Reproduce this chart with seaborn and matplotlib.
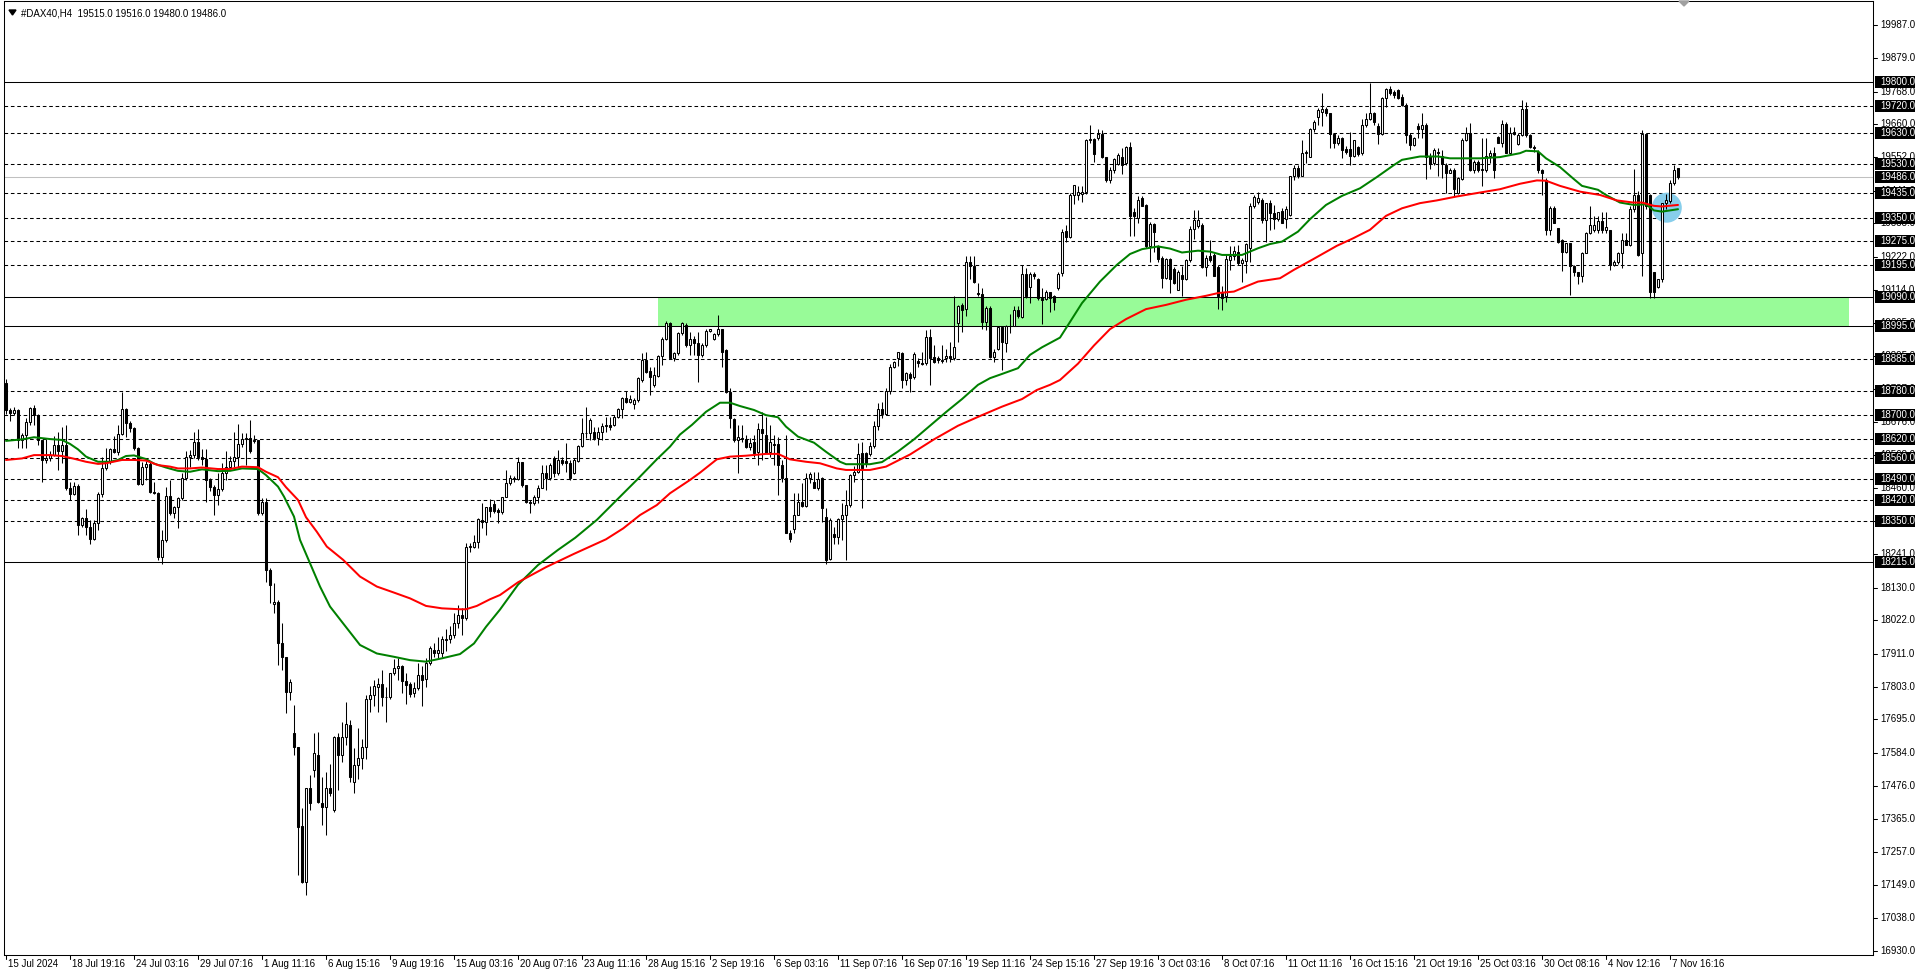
import numpy as np
import matplotlib
matplotlib.use('Agg')
import matplotlib.pyplot as plt
from matplotlib.patches import Rectangle, Ellipse, Polygon
from matplotlib.lines import Line2D
import seaborn as sns

sns.set_theme(style='white')
plt.rcParams['font.family'] = ['Liberation Sans', 'DejaVu Sans']
plt.rcParams['lines.scale_dashes'] = False

# ---------------- data ----------------
opens = [
    18805, 18717, 18706, 18717, 18618, 18635, 18676, 18722, 18700, 18618,
    18552, 18560, 18570, 18600, 18580, 18600, 18458, 18440, 18465, 18337,
    18360, 18332, 18290, 18343, 18438, 18524, 18550, 18587, 18579, 18638,
    18719, 18673, 18656, 18590, 18473, 18530, 18540, 18447, 18442, 18230,
    18288, 18433, 18376, 18397, 18425, 18491, 18563, 18568, 18610, 18563,
    18554, 18486, 18464, 18436, 18455, 18510, 18530, 18549, 18563, 18604,
    18620, 18625, 18615, 18618, 18376, 18414, 18189, 18076, 18084, 17949,
    17902, 17787, 17650, 17605, 17343, 17160, 17468, 17528, 17578, 17418,
    17407, 17468, 17396, 17638, 17578, 17638, 17677, 17490, 17545, 17567,
    17603, 17762, 17776, 17803, 17812, 17768, 17768, 17847, 17864, 17872,
    17823, 17812, 17784, 17798, 17842, 17830, 17880, 17924, 17913, 17913,
    17957, 17962, 17973, 18015, 18040, 18029, 18263, 18266, 18282, 18354,
    18348, 18398, 18406, 18387, 18380, 18431, 18477, 18491, 18490, 18546,
    18469, 18414, 18409, 18431, 18458, 18510, 18491, 18560, 18508, 18551,
    18547, 18542, 18508, 18550, 18598, 18642, 18640, 18645, 18623, 18645,
    18664, 18667, 18667, 18695, 18719, 18755, 18744, 18737, 18750, 18816,
    18882, 18846, 18800, 18830, 18895, 18950, 19003, 18887, 18904, 18970,
    18997, 18931, 18950, 18937, 18898, 18931, 18979, 18950, 18968, 18983,
    18915, 18777, 18686, 18618, 18626, 18620, 18596, 18612, 18579, 18653,
    18634, 18579, 18605, 18605, 18535, 18494, 18312, 18323, 18371, 18414,
    18400, 18491, 18480, 18461, 18491, 18362, 18224, 18307, 18296, 18356,
    18370, 18403, 18502, 18513, 18574, 18574, 18572, 18598, 18665, 18720,
    18705, 18780, 18860, 18888, 18905, 18816, 18835, 18827, 18880, 18871,
    18871, 18957, 18891, 18888, 18880, 18888, 18896, 18888, 19004, 19064,
    19050, 19207, 19193, 19104, 19100, 19009, 19053, 18893, 18918, 18990,
    18937, 18995, 18995, 19046, 19023, 19166, 19122, 19166, 19149, 19086,
    19083, 19105, 19092, 19119, 19169, 19309, 19287, 19427, 19427, 19430,
    19437, 19607, 19611, 19614, 19629, 19552, 19477, 19508, 19530, 19554,
    19532, 19587, 19372, 19350, 19416, 19394, 19257, 19331, 19257, 19218,
    19152, 19215, 19182, 19114, 19163, 19149, 19213, 19314, 19325, 19328,
    19188, 19226, 19229, 19188, 19103, 19092, 19213, 19226, 19240, 19202,
    19210, 19251, 19391, 19405, 19411, 19345, 19402, 19369, 19347, 19375,
    19347, 19361, 19490, 19515, 19490, 19567, 19554, 19644, 19686, 19702,
    19710, 19697, 19629, 19598, 19614, 19578, 19578, 19556, 19585, 19565,
    19658, 19677, 19699, 19655, 19629, 19746, 19776, 19768, 19772, 19750,
    19724, 19625, 19592, 19655, 19644, 19658, 19556, 19532, 19570, 19556,
    19526, 19501, 19510, 19435, 19479, 19609, 19631, 19508, 19537, 19510,
    19510, 19556, 19565, 19617, 19600, 19662, 19567, 19636, 19596, 19625,
    19710, 19625, 19587, 19570, 19510, 19477, 19312, 19383, 19317, 19279,
    19240, 19270, 19191, 19171, 19158, 19237, 19303, 19312, 19312, 19342,
    19310, 19310, 19196, 19207, 19235, 19279, 19262, 19380, 19427, 19235,
    19629, 19427, 19171, 19124, 19149, 19400, 19407, 19468, 19515,
]
highs = [
    18820, 18725, 18728, 18720, 18640, 18689, 18728, 18735, 18705, 18618,
    18620, 18580, 18630, 18645, 18662, 18667, 18480, 18480, 18473, 18365,
    18389, 18354, 18354, 18445, 18563, 18590, 18590, 18630, 18667, 18775,
    18725, 18680, 18660, 18594, 18545, 18550, 18545, 18480, 18447, 18321,
    18464, 18486, 18400, 18430, 18508, 18580, 18585, 18643, 18653, 18587,
    18587, 18492, 18470, 18508, 18541, 18580, 18565, 18645, 18670, 18640,
    18640, 18684, 18635, 18618, 18425, 18425, 18195, 18145, 18090, 18015,
    17902, 17830, 17743, 17605, 17402, 17468, 17512, 17649, 17655, 17505,
    17520, 17548, 17640, 17650, 17688, 17754, 17693, 17600, 17666, 17631,
    17776, 17806, 17825, 17831, 17860, 17803, 17847, 17894, 17897, 17875,
    17847, 17820, 17820, 17880, 17872, 17897, 17938, 17947, 17968, 17971,
    17993, 18004, 18045, 18073, 18062, 18277, 18277, 18304, 18359, 18409,
    18398, 18422, 18420, 18392, 18431, 18519, 18502, 18500, 18563, 18546,
    18469, 18420, 18436, 18469, 18535, 18535, 18541, 18565, 18585, 18563,
    18609, 18552, 18557, 18601, 18689, 18728, 18689, 18662, 18662, 18675,
    18693, 18695, 18700, 18722, 18760, 18780, 18766, 18755, 18827, 18906,
    18909, 18860, 18860, 18898, 18959, 19012, 19008, 18910, 18975, 19008,
    19003, 18975, 18960, 18975, 18937, 18983, 18986, 18972, 19030, 18986,
    18917, 18788, 18689, 18667, 18667, 18634, 18623, 18634, 18673, 18711,
    18694, 18667, 18634, 18629, 18552, 18634, 18320, 18442, 18442, 18477,
    18508, 18513, 18513, 18513, 18497, 18392, 18359, 18329, 18359, 18409,
    18453, 18505, 18532, 18607, 18612, 18579, 18610, 18680, 18740, 18745,
    18790, 18870, 18880, 18910, 18907, 18844, 18844, 18907, 18888, 18907,
    18982, 18984, 18932, 18896, 18932, 18918, 18940, 19094, 19064, 19070,
    19224, 19224, 19224, 19136, 19119, 19059, 19059, 18918, 18992, 18992,
    18998, 19034, 19059, 19059, 19196, 19185, 19171, 19171, 19152, 19119,
    19114, 19108, 19097, 19174, 19314, 19328, 19433, 19460, 19457, 19457,
    19611, 19658, 19614, 19644, 19640, 19554, 19519, 19548, 19565, 19581,
    19589, 19603, 19383, 19422, 19422, 19398, 19339, 19336, 19262, 19226,
    19218, 19218, 19188, 19180, 19191, 19215, 19323, 19376, 19376, 19334,
    19229, 19277, 19235, 19196, 19125, 19229, 19257, 19259, 19262, 19218,
    19268, 19400, 19427, 19438, 19416, 19402, 19409, 19394, 19372, 19383,
    19389, 19490, 19526, 19526, 19607, 19576, 19647, 19675, 19713, 19763,
    19719, 19699, 19633, 19625, 19620, 19589, 19636, 19609, 19589, 19677,
    19699, 19796, 19702, 19664, 19750, 19779, 19787, 19774, 19776, 19761,
    19730, 19631, 19620, 19664, 19697, 19664, 19565, 19581, 19581, 19576,
    19532, 19515, 19515, 19486, 19614, 19653, 19664, 19543, 19543, 19614,
    19614, 19574, 19587, 19622, 19675, 19669, 19653, 19653, 19631, 19739,
    19735, 19629, 19592, 19574, 19512, 19482, 19389, 19389, 19317, 19281,
    19270, 19270, 19196, 19174, 19240, 19306, 19389, 19356, 19358, 19372,
    19372, 19312, 19213, 19240, 19303, 19301, 19389, 19512, 19440, 19642,
    19631, 19430, 19174, 19150, 19400, 19430, 19475, 19526, 19516,
]
lows = [
    18705, 18680, 18700, 18590, 18590, 18590, 18667, 18667, 18601, 18480,
    18541, 18548, 18565, 18519, 18541, 18453, 18420, 18435, 18304, 18330,
    18304, 18274, 18288, 18320, 18430, 18520, 18540, 18575, 18568, 18634,
    18629, 18645, 18585, 18469, 18469, 18486, 18442, 18440, 18222, 18208,
    18282, 18370, 18360, 18326, 18420, 18486, 18530, 18560, 18552, 18535,
    18414, 18451, 18370, 18403, 18450, 18486, 18524, 18530, 18530, 18596,
    18535, 18574, 18607, 18370, 18370, 18150, 18079, 18045, 17875, 17858,
    17715, 17760, 17578, 17181, 17154, 17115, 17396, 17506, 17418, 17347,
    17314, 17441, 17390, 17462, 17556, 17610, 17490, 17451, 17497, 17530,
    17563, 17720, 17738, 17721, 17738, 17688, 17762, 17842, 17825, 17781,
    17745, 17768, 17768, 17792, 17740, 17803, 17875, 17902, 17897, 17902,
    17922, 17946, 17963, 17996, 17974, 18024, 18249, 18260, 18260, 18326,
    18304, 18365, 18376, 18343, 18373, 18431, 18469, 18480, 18486, 18464,
    18411, 18376, 18403, 18409, 18458, 18453, 18486, 18497, 18502, 18535,
    18513, 18486, 18506, 18546, 18595, 18623, 18618, 18618, 18601, 18618,
    18645, 18651, 18664, 18689, 18689, 18739, 18739, 18719, 18744, 18810,
    18838, 18766, 18794, 18825, 18866, 18948, 18884, 18880, 18898, 18964,
    18926, 18900, 18900, 18810, 18893, 18926, 18973, 18948, 18961, 18860,
    18774, 18656, 18612, 18508, 18612, 18590, 18585, 18563, 18535, 18552,
    18574, 18563, 18535, 18436, 18480, 18310, 18282, 18312, 18370, 18398,
    18398, 18477, 18458, 18453, 18348, 18210, 18222, 18276, 18276, 18288,
    18222, 18398, 18480, 18508, 18392, 18530, 18565, 18590, 18650, 18690,
    18700, 18770, 18855, 18863, 18789, 18800, 18778, 18819, 18860, 18866,
    18866, 18800, 18872, 18872, 18873, 18874, 18874, 18883, 18940, 18976,
    19026, 19149, 19136, 19092, 18984, 18982, 18888, 18877, 18916, 18850,
    18910, 18970, 18993, 19020, 19020, 19086, 19070, 19150, 19081, 19000,
    19081, 19042, 19048, 19114, 19158, 19273, 19284, 19398, 19411, 19405,
    19431, 19598, 19537, 19609, 19548, 19471, 19466, 19499, 19526, 19497,
    19526, 19292, 19290, 19336, 19389, 19251, 19204, 19240, 19204, 19119,
    19149, 19103, 19133, 19112, 19092, 19147, 19207, 19281, 19317, 19185,
    19158, 19207, 19160, 19050, 19048, 19075, 19180, 19213, 19196, 19141,
    19169, 19204, 19383, 19398, 19336, 19273, 19312, 19314, 19340, 19334,
    19317, 19356, 19477, 19482, 19488, 19532, 19552, 19636, 19658, 19655,
    19688, 19581, 19581, 19592, 19548, 19563, 19526, 19552, 19556, 19559,
    19653, 19675, 19658, 19596, 19625, 19717, 19757, 19746, 19743, 19721,
    19598, 19574, 19589, 19614, 19614, 19479, 19512, 19526, 19488, 19482,
    19433, 19501, 19422, 19431, 19477, 19606, 19506, 19501, 19504, 19455,
    19504, 19532, 19482, 19598, 19587, 19565, 19563, 19625, 19592, 19622,
    19620, 19581, 19570, 19501, 19427, 19295, 19295, 19333, 19270, 19177,
    19235, 19097, 19158, 19133, 19141, 19235, 19299, 19306, 19303, 19303,
    19301, 19180, 19191, 19199, 19185, 19262, 19259, 19370, 19224, 19158,
    19380, 19086, 19086, 19120, 19140, 19380, 19400, 19460, 19480,
]
closes = [
    18717, 18706, 18717, 18618, 18635, 18676, 18722, 18700, 18618, 18552,
    18560, 18570, 18600, 18580, 18600, 18458, 18440, 18465, 18337, 18360,
    18332, 18290, 18343, 18438, 18524, 18550, 18587, 18579, 18638, 18719,
    18673, 18656, 18590, 18473, 18530, 18540, 18447, 18442, 18230, 18288,
    18433, 18376, 18397, 18425, 18491, 18563, 18568, 18610, 18563, 18554,
    18486, 18464, 18436, 18455, 18510, 18530, 18549, 18563, 18604, 18620,
    18625, 18583, 18618, 18376, 18414, 18189, 18139, 18084, 17949, 17902,
    17787, 17820, 17605, 17341, 17160, 17468, 17418, 17583, 17424, 17407,
    17468, 17451, 17638, 17578, 17638, 17679, 17506, 17545, 17567, 17603,
    17762, 17776, 17806, 17812, 17768, 17768, 17847, 17864, 17872, 17823,
    17809, 17778, 17798, 17842, 17827, 17880, 17930, 17916, 17923, 17960,
    17962, 17973, 18015, 18040, 18031, 18266, 18268, 18282, 18356, 18348,
    18398, 18385, 18383, 18380, 18431, 18477, 18491, 18490, 18546, 18469,
    18414, 18409, 18431, 18458, 18510, 18491, 18535, 18508, 18551, 18543,
    18542, 18491, 18552, 18598, 18642, 18640, 18684, 18623, 18645, 18664,
    18667, 18662, 18695, 18719, 18755, 18744, 18752, 18750, 18821, 18882,
    18843, 18825, 18832, 18895, 18950, 19003, 18887, 18904, 18970, 19003,
    18931, 18950, 18937, 18898, 18931, 18979, 18983, 18968, 18983, 18909,
    18777, 18689, 18618, 18628, 18620, 18596, 18609, 18574, 18653, 18642,
    18576, 18612, 18601, 18535, 18494, 18312, 18290, 18371, 18414, 18400,
    18491, 18505, 18461, 18488, 18392, 18222, 18354, 18296, 18356, 18370,
    18403, 18502, 18513, 18572, 18524, 18540, 18598, 18665, 18720, 18705,
    18780, 18860, 18875, 18907, 18816, 18838, 18824, 18901, 18871, 18868,
    18957, 18888, 18874, 18883, 18880, 18896, 18890, 18924, 19061, 19048,
    19207, 19193, 19141, 19100, 19006, 19053, 18893, 18907, 18990, 18940,
    18995, 18993, 19048, 19026, 19166, 19092, 19166, 19158, 19086, 19081,
    19105, 19086, 19072, 19166, 19306, 19287, 19427, 19460, 19438, 19437,
    19607, 19611, 19563, 19629, 19552, 19477, 19510, 19545, 19559, 19526,
    19587, 19358, 19356, 19411, 19389, 19257, 19331, 19306, 19215, 19152,
    19215, 19149, 19136, 19174, 19149, 19213, 19314, 19345, 19345, 19188,
    19218, 19213, 19160, 19092, 19087, 19215, 19226, 19243, 19202, 19213,
    19266, 19391, 19420, 19416, 19343, 19402, 19367, 19347, 19372, 19336,
    19380, 19490, 19515, 19490, 19567, 19570, 19644, 19669, 19708, 19710,
    19699, 19629, 19598, 19614, 19576, 19570, 19556, 19607, 19563, 19658,
    19677, 19699, 19669, 19629, 19746, 19776, 19763, 19757, 19746, 19724,
    19625, 19592, 19614, 19644, 19658, 19554, 19530, 19576, 19565, 19530,
    19501, 19510, 19446, 19482, 19609, 19631, 19508, 19537, 19510, 19512,
    19556, 19565, 19510, 19600, 19662, 19567, 19633, 19629, 19625, 19710,
    19625, 19587, 19583, 19510, 19499, 19312, 19383, 19334, 19273, 19240,
    19270, 19191, 19174, 19158, 19237, 19303, 19328, 19328, 19342, 19310,
    19322, 19196, 19207, 19237, 19279, 19262, 19380, 19427, 19229, 19629,
    19390, 19108, 19108, 19149, 19400, 19410, 19468, 19508, 19486,
]

# moving averages, sampled along the lines (bar index, price)
ma_fast_bar = [
    0, 4, 7, 11, 14, 16, 18, 20, 23, 26, 28, 30, 32, 35, 37, 40, 43, 46, 49, 53,
    56, 59, 63, 65, 68, 69.5, 72, 73.5, 76, 78.5, 81, 84.3, 88.5, 92.7, 97, 101,
    105, 109, 113.5, 117, 120, 123.5, 128, 133, 138, 142.3, 147.7, 152.7, 157.7,
    162.7, 166, 168.5, 171.5, 175, 178.5, 181, 183.5, 187, 190, 193, 195, 198,
    202, 205, 208.5, 210, 216, 219, 223, 227, 231, 235, 239, 243, 246, 249, 253,
    256, 259, 263.5, 265, 269, 273.5, 277.7, 281, 284, 288, 291, 294, 298, 301,
    304, 309, 313, 316, 319, 323, 326, 330, 334, 338.5, 342.7, 347, 349, 353.5,
    358, 361, 366, 368.5, 373.5, 378.5, 380, 383, 385, 388.5, 392, 394, 398, 400,
    403.5, 407, 410, 412, 414, 418,
]
ma_fast = [
    18615, 18620, 18627, 18621, 18618, 18605, 18587, 18563, 18546, 18546,
    18552, 18565, 18567, 18555, 18540, 18527, 18516, 18513, 18521, 18515,
    18516, 18524, 18522, 18502, 18464, 18431, 18365, 18288, 18211, 18134,
    18068, 18012, 17941, 17913, 17902, 17891, 17886, 17897, 17911, 17946,
    18001, 18058, 18140, 18205, 18255, 18295, 18354, 18420, 18486, 18554,
    18596, 18636, 18668, 18711, 18741, 18741, 18730, 18717, 18700, 18693,
    18662, 18629, 18609, 18579, 18546, 18538, 18538, 18545, 18580, 18620,
    18665, 18710, 18753, 18800, 18822, 18836, 18855, 18899, 18924, 18956,
    18987, 19070, 19141, 19196, 19232, 19248, 19257, 19250, 19237, 19243,
    19240, 19229, 19229, 19251, 19265, 19273, 19306, 19347, 19394, 19424,
    19449, 19486, 19526, 19543, 19554, 19554, 19548, 19548, 19548, 19552,
    19565, 19573, 19571, 19548, 19519, 19479, 19457, 19444, 19427, 19402,
    19394, 19396, 19376, 19372, 19380,
]
ma_slow_bar = [
    0, 4, 7, 11, 14, 17, 20, 23, 25, 29, 32, 35, 38, 41, 43, 46, 49, 53, 56, 59,
    63, 65, 68, 70, 73, 75, 77.7, 80.2, 84.3, 88.5, 92.7, 97, 101, 105, 109,
    113.5, 115, 117.7, 121, 123.5, 128, 135, 142, 150, 154.3, 158.5, 162.7, 166,
    171, 173.5, 177.7, 181, 185, 190, 193, 196, 200, 203.5, 207.7, 210, 216, 220,
    226, 232, 238, 244, 249, 254, 257.7, 261, 263.5, 268, 272, 276, 280, 285, 290,
    295, 300, 303, 307, 310, 313, 318.5, 322, 326.8, 332.7, 336.8, 341, 345, 349,
    353.5, 357.7, 362.7, 368.5, 373.5, 378.5, 382.7, 385, 388.5, 393.5, 398.5,
    402.7, 406.8, 409, 412, 414, 418,
]
ma_slow = [
    18552, 18557, 18568, 18568, 18565, 18556, 18546, 18539, 18541, 18552,
    18552, 18550, 18535, 18530, 18524, 18524, 18527, 18522, 18522, 18530,
    18528, 18513, 18495, 18462, 18420, 18363, 18315, 18266, 18222, 18167,
    18134, 18114, 18095, 18070, 18062, 18059, 18059, 18070, 18092, 18106,
    18148, 18198, 18242, 18290, 18326, 18370, 18403, 18442, 18486, 18510,
    18554, 18563, 18566, 18572, 18572, 18554, 18546, 18541, 18524, 18519,
    18519, 18530, 18570, 18620, 18665, 18700, 18728, 18753, 18783, 18800,
    18816, 18870, 18930, 18984, 19017, 19050, 19064, 19081, 19094, 19103,
    19108, 19125, 19141, 19152, 19180, 19215, 19259, 19284, 19312, 19358,
    19383, 19400, 19409, 19422, 19435, 19446, 19464, 19475, 19474, 19457,
    19438, 19427, 19409, 19402, 19402, 19391, 19389, 19394,
]

solid_levels = [19800, 19090, 18995, 18215]
dashed_levels = [19720, 19630, 19530, 19435, 19350, 19275, 19195,
                 18885, 18780, 18700, 18620, 18560, 18490, 18420, 18350]
bid_price = 19486
zone_low, zone_high = 18995, 19090
zone_bars = (162.9, 460.75)
circle_bar, circle_price = 415.2, 19385

scale_ticks = [19987, 19879, 19768, 19660, 19552, 19441, 19333, 19222, 19114,
               19005, 18895, 18787, 18676, 18568, 18460, 18350, 18241, 18130,
               18022, 17911, 17803, 17695, 17584, 17476, 17365, 17257, 17149,
               17038, 16930]
date_labels = ['15 Jul 2024', '18 Jul 19:16', '24 Jul 03:16', '29 Jul 07:16',
               '1 Aug 11:16', '6 Aug 15:16', '9 Aug 19:16', '15 Aug 03:16',
               '20 Aug 07:16', '23 Aug 11:16', '28 Aug 15:16', '2 Sep 19:16',
               '6 Sep 03:16', '11 Sep 07:16', '16 Sep 07:16', '19 Sep 11:16',
               '24 Sep 15:16', '27 Sep 19:16', '3 Oct 03:16', '8 Oct 07:16',
               '11 Oct 11:16', '16 Oct 15:16', '21 Oct 19:16', '25 Oct 03:16',
               '30 Oct 08:16', '4 Nov 12:16', '7 Nov 16:16']
label_every = 16
title = '#DAX40,H4  19515.0 19516.0 19480.0 19486.0'

# ---------------- layout (pixels) ----------------
W, H = 1920, 976
PX_L, PX_R, PX_T, PX_B = 4, 1873, 1, 955
X0, BAR_PX = 6, 4            # x pixel of bar 0, pixels per bar
REF_PRICE, REF_PY, PPX = 19800, 82, 3.302   # price per pixel


def price_py(p):
    return REF_PY + (REF_PRICE - p) / PPX


def fx(px):
    return px / W


def fy(py):
    return 1 - py / H


fig = plt.figure(figsize=(W / 100, H / 100), dpi=100, facecolor='white')
ax = fig.add_axes([fx(PX_L), fy(PX_B), (PX_R - PX_L) / W, (PX_B - PX_T) / H])
ax.set_facecolor('white')
ax.set_xlim((PX_L - X0) / BAR_PX, (PX_R - X0) / BAR_PX)
ax.set_ylim(REF_PRICE - (PX_B - REF_PY) * PPX, REF_PRICE + (REF_PY - PX_T) * PPX)
ax.set_xticks([])
ax.set_yticks([])
for s in ax.spines.values():
    s.set_color('black')
    s.set_linewidth(0.75)
    s.set_visible(True)

# support zone and marker
ax.add_patch(Rectangle((zone_bars[0], zone_low), zone_bars[1] - zone_bars[0],
                       zone_high - zone_low, facecolor='#98FB98',
                       edgecolor='none', zorder=1))
ax.add_patch(Ellipse((circle_bar, circle_price), width=30 / BAR_PX,
                     height=30 * PPX, facecolor='#87CEEB', edgecolor='none',
                     zorder=2.5))

# horizontal levels
for lv in solid_levels:
    ax.axhline(lv, color='black', lw=0.75, zorder=2)
for lv in dashed_levels:
    ax.axhline(lv, color='black', lw=0.75, linestyle=(0, (2.6, 2.0)), zorder=2)
ax.axhline(bid_price, color='#C0C0C0', lw=0.75, zorder=2)

# candles
o = np.array(opens, float)
h = np.array(highs, float)
l = np.array(lows, float)
c = np.array(closes, float)
idx = np.arange(len(c))
bull = c >= o
ax.vlines(idx, l, h, colors='black', linewidth=0.75, zorder=3)
ax.bar(idx, np.maximum(np.abs(c - o), 1.0), bottom=np.minimum(o, c), width=0.5,
       color=['white' if b else 'black' for b in bull], edgecolor='black',
       linewidth=0.75, zorder=4)

# moving averages
sns.lineplot(x=ma_fast_bar, y=ma_fast, ax=ax, color='#008000', linewidth=1.45,
             zorder=6, legend=False)
sns.lineplot(x=ma_slow_bar, y=ma_slow, ax=ax, color='#FF0000', linewidth=1.45,
             zorder=6, legend=False)
ax.set_xlabel('')
ax.set_ylabel('')

# price scale
FS = 7
for t in scale_ticks:
    py = price_py(t)
    fig.add_artist(Line2D([fx(PX_R), fx(PX_R + 4)], [fy(py), fy(py)],
                          color='black', lw=0.75))
    fig.text(fx(PX_R + 7), fy(py), f'{t:.1f}', fontsize=FS, va='center',
             ha='left', color='black', zorder=3)
for lv in solid_levels + dashed_levels + [bid_price]:
    py = price_py(lv)
    fig.add_artist(Rectangle((fx(PX_R + 2), fy(py + 6)), 40 / W, 12 / H,
                             transform=fig.transFigure, facecolor='black',
                             edgecolor='none', zorder=4))
    fig.text(fx(PX_R + 7), fy(py), f'{lv:.1f}', fontsize=FS, va='center',
             ha='left', color='white', zorder=5)

# time scale
for k, lab in enumerate(date_labels):
    px = X0 + BAR_PX * label_every * k
    fig.add_artist(Line2D([fx(px), fx(px)], [fy(PX_B), fy(PX_B + 4)],
                          color='black', lw=0.75))
    fig.text(fx(px + 2), fy(964), lab, fontsize=FS, va='center', ha='left',
             color='black')

# title and small markers
fig.add_artist(Polygon([[fx(9), fy(10)], [fx(16), fy(10)], [fx(12.5), fy(15)]],
                       closed=True, transform=fig.transFigure, color='black'))
fig.text(fx(21), fy(13), title, fontsize=FS, va='center', ha='left', color='black')
fig.add_artist(Polygon([[fx(1679), fy(1)], [fx(1689), fy(1)], [fx(1684), fy(6)]],
                       closed=True, transform=fig.transFigure, color='#A0A0A0'))

fig.savefig('out.png', dpi=100, facecolor='white')
